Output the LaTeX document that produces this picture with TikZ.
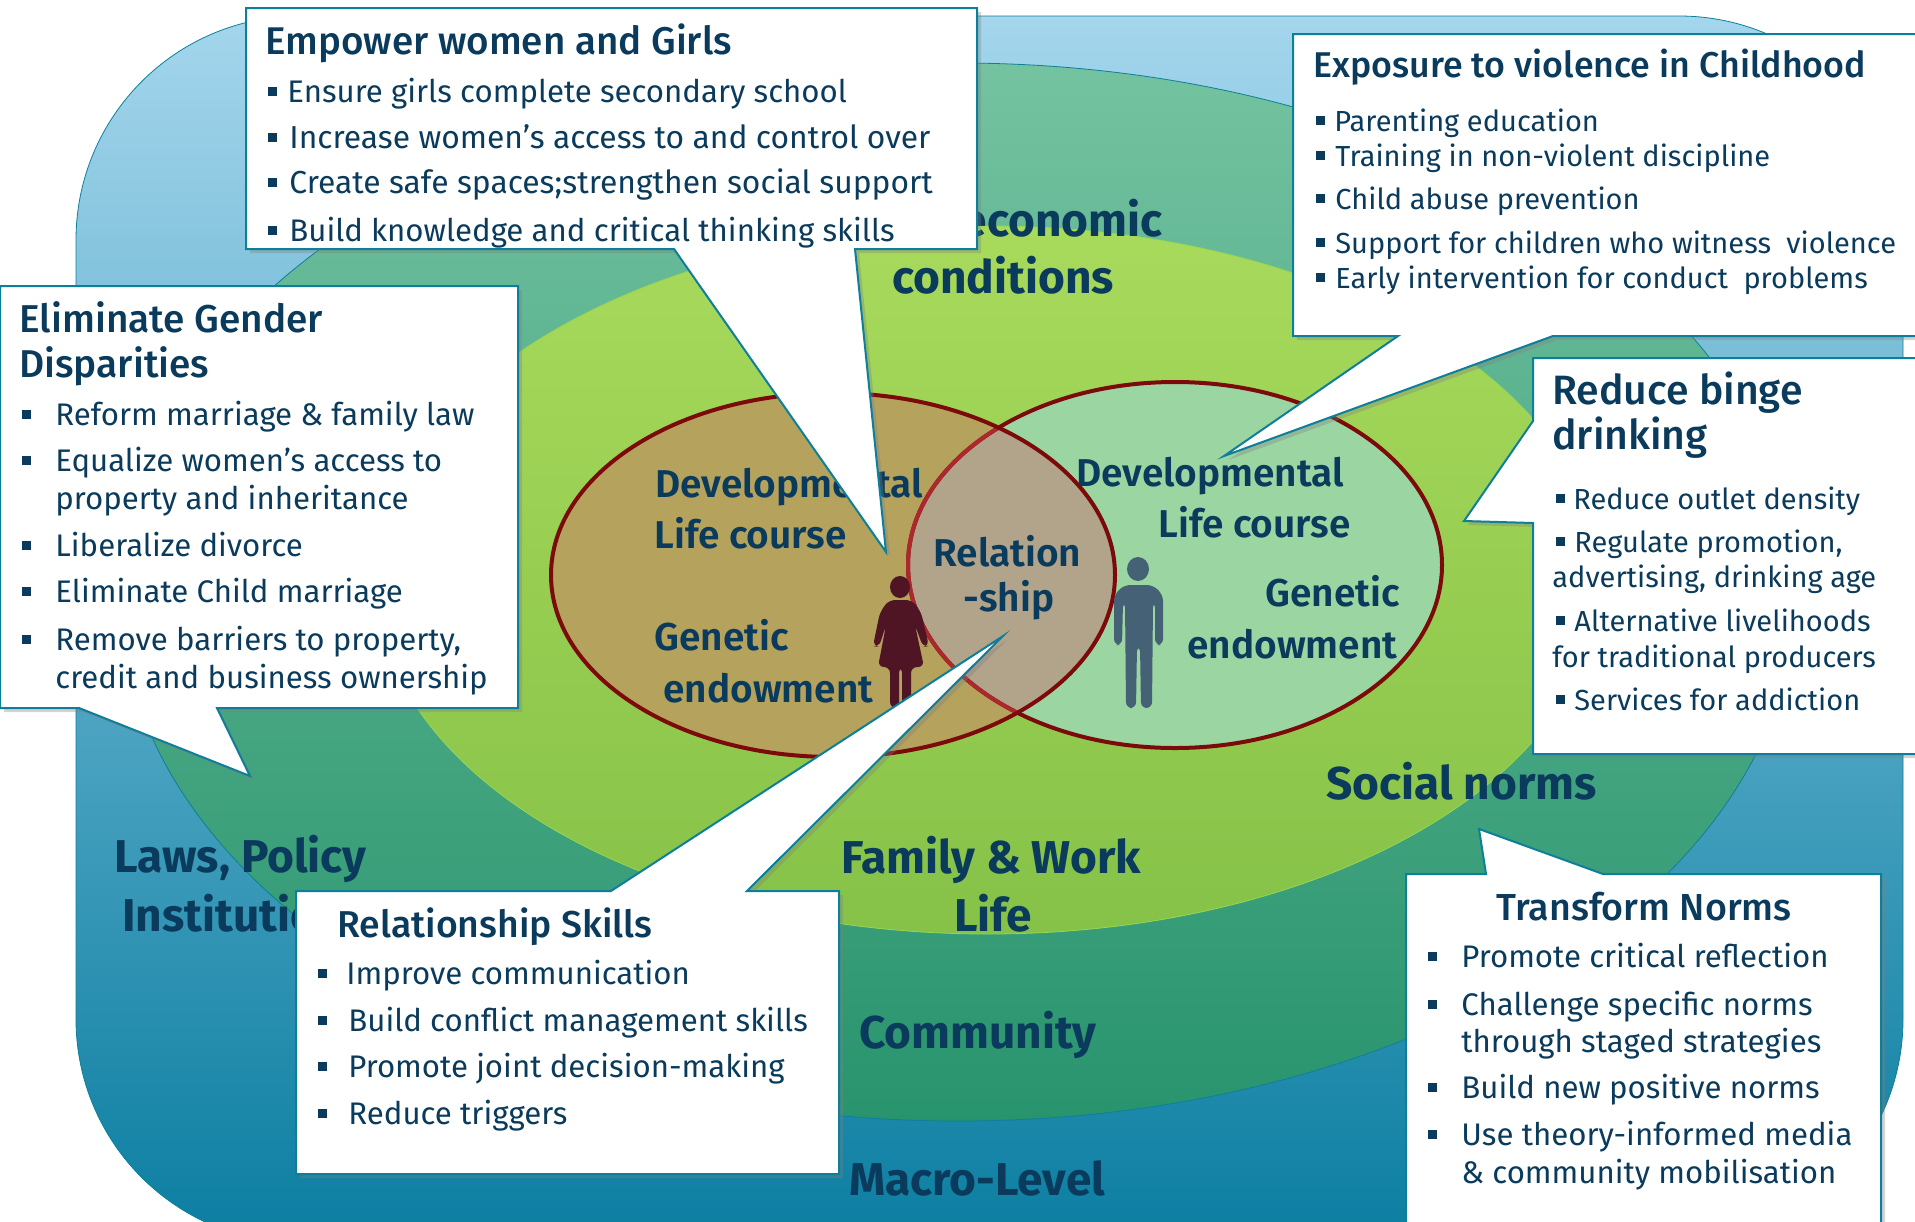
\documentclass[tikz,border=0pt]{standalone}
\usepackage{fontspec}
\setmainfont{Fira Sans}
\newfontfamily\mediumfont{Fira Sans Medium}
\newfontfamily\semifont{Fira Sans SemiBold}
\usetikzlibrary{shadows}

\definecolor{inktext}{HTML}{0A3B5C}
\definecolor{tealline}{HTML}{0E7F9A}
\definecolor{darkred}{HTML}{7C0A0A}

\tikzset{
	body/.style={anchor=base west,inner sep=0pt,text=inktext,font=\fontsize{15.6}{18}\selectfont},
	smallbody/.style={body,font=\fontsize{14.5}{18}\selectfont},
	widebody/.style={body,font=\fontsize{15.9}{18}\selectfont},
	boxtitle/.style={anchor=base west,inner sep=0pt,text=inktext,font=\fontsize{#1}{22}\mediumfont},
	biglabel/.style={anchor=base west,inner sep=0pt,text=inktext,font=\fontsize{23}{26}\selectfont\bfseries},
	venntext/.style={anchor=base west,inner sep=0pt,text=inktext,font=\fontsize{19.4}{22}\semifont},
	itemmark/.style={rectangle,fill=inktext,inner sep=0pt,minimum size=4.5pt},
	callout/.style={fill=white,draw=tealline,line width=1pt,line join=miter,
		drop shadow={shadow xshift=2pt,shadow yshift=-2pt,opacity=.35}},
}

\def\womancircle{(833,575) ellipse [x radius=282,y radius=182]}
\def\mancircle{(1175,565) ellipse [x radius=267,y radius=183]}

\begin{document}
\begin{tikzpicture}[x=0.5pt,y=-0.5pt]
	\useasboundingbox (0,0) rectangle (1915,1221);
	% nested levels
	\shade[top color={rgb,255:red,164;green,214;blue,237},bottom color={rgb,255:red,11;green,126;blue,161},draw=tealline,rounded corners=112pt] (76,16) rectangle (1903,1243);
	\shade[top color={rgb,255:red,116;green,194;blue,160},bottom color={rgb,255:red,40;green,148;blue,110},draw=tealline] (958,592) ellipse [x radius=838,y radius=529];
	\shade[top color={rgb,255:red,168;green,218;blue,92},bottom color={rgb,255:red,134;green,194;blue,72},draw={rgb,255:red,150;green,214;blue,80}] (988,580) ellipse [x radius=612,y radius=354];
	% venn
	\fill[color={rgb,255:red,180;green,162;blue,93}] \womancircle;
	\fill[color={rgb,255:red,155;green,214;blue,162}] \mancircle;
	\begin{scope}
		\clip \womancircle;
		\fill[color={rgb,255:red,178;green,163;blue,139}] \mancircle;
	\end{scope}
	\draw[darkred,line width=2pt] \mancircle;
	\begin{scope}
		\clip \womancircle;
		\draw[color={rgb,255:red,172;green,40;blue,44},line width=2pt] \mancircle;
	\end{scope}
	\draw[darkred,line width=2pt] \womancircle;
	% level labels
	\node[biglabel,anchor=base east] (economic) at (1163,236) {economic};
	\node[biglabel] (conditions) at (892,293) {conditions};
	\node[biglabel] (norms) at (1326,799) {Social norms};
	\node[biglabel] (family) at (841,873) {Family \& Work};
	\node[biglabel,anchor=base] (life) at (993,931) {Life};
	\node[biglabel] (community) at (859,1048) {Community};
	\node[biglabel] (macro) at (849,1195) {Macro-Level};
	\node[biglabel] (laws) at (114,872) {Laws, Policy};
	\node[biglabel] (institutions) at (122,931) {Institutions};
	% venn labels
	\node[venntext] (devleft) at (655,497) {Developmental};
	\node[venntext] (lifeleft) at (654,548) {Life course};
	\node[venntext] (genleft) at (654,650) {Genetic};
	\node[venntext] (endleft) at (663,702) {endowment};
	\node[venntext] (devright) at (1076,486) {Developmental};
	\node[venntext] (liferight) at (1158,537) {Life course};
	\node[venntext] (genright) at (1265,606) {Genetic};
	\node[venntext] (endright) at (1187,658) {endowment};
	\node[venntext] (relation) at (933,566) {Relation};
	\node[venntext] (ship) at (963,611) {-ship};
	% woman
	\fill[color={rgb,255:red,79;green,21;blue,36}] (900,587) ellipse [x radius=10,y radius=11];
	\fill[color={rgb,255:red,79;green,21;blue,36},rounded corners=3pt] (889,600) -- (912,600) -- (921,612) -- (929,646) -- (923,647) -- (915,625) -- (924,667) -- (911,667) -- (911,708) -- (902,708) -- (902,667) -- (899,667) -- (899,708) -- (890,708) -- (890,667) -- (878,667) -- (886,625) -- (879,647) -- (873,646) -- (880,612) -- cycle;
	% man
	\fill[color={rgb,255:red,69;green,97;blue,118}] (1138,569) ellipse [x radius=11,y radius=12];
	\fill[color={rgb,255:red,69;green,97;blue,118},rounded corners=3pt] (1124,585) -- (1153,585) -- (1163,595) -- (1163,645) -- (1155,645) -- (1155,602) -- (1153,602) -- (1152,708) -- (1141,708) -- (1140,646) -- (1137,646) -- (1136,708) -- (1126,708) -- (1125,602) -- (1123,602) -- (1122,645) -- (1114,645) -- (1114,595) -- cycle;
	% callouts
	\filldraw[callout] (246,8) -- (977,8) -- (977,249) -- (855,249) -- (886,552) -- (674,249) -- (246,249) -- cycle;
	\filldraw[callout] (0,286) -- (518,286) -- (518,708) -- (217,708) -- (250,776) -- (79,708) -- (0,708) -- cycle;
	\filldraw[callout] (296,891) -- (611,891) -- (1003,636) -- (747,891) -- (839,891) -- (839,1174) -- (296,1174) -- cycle;
	\filldraw[callout] (1293,34) -- (1930,34) -- (1930,336) -- (1553,336) -- (1224,456) -- (1398,336) -- (1293,336) -- cycle;
	\filldraw[callout] (1533,358) -- (1930,358) -- (1930,754) -- (1533,754) -- (1533,523) -- (1464,521) -- (1533,421) -- cycle;
	\filldraw[callout] (1406,874) -- (1486,874) -- (1479,829) -- (1603,874) -- (1881,874) -- (1881,1240) -- (1406,1240) -- cycle;
	% empower
	\node[boxtitle=19.3] (empower) at (265,54) {Empower women and Girls};
	\node[body] (emp1) at (287,102) {Ensure girls complete secondary school};
	\node[widebody] (emp2) at (289,148) {Increase women’s access to and control over};
	\node[widebody] (emp3) at (289,193) {Create safe spaces;strengthen social support};
	\node[body] (emp4) at (289,241) {Build knowledge and critical thinking skills};
	\foreach \y in {91,137,182,230}
		\node[itemmark] (empm\y) at (272,\y) {};
	% eliminate
	\node[boxtitle=19.4] (gender) at (19,332) {Eliminate Gender};
	\node[boxtitle=19.4] (gender2) at (19,377) {Disparities};
	\node[body] (gen1) at (55,425) {Reform marriage \& family law};
	\node[body] (gen2) at (55,471) {Equalize women’s access to};
	\node[body] (gen3) at (55,509) {property and inheritance};
	\node[body] (gen4) at (55,556) {Liberalize divorce};
	\node[body] (gen5) at (55,602) {Eliminate Child marriage};
	\node[body] (gen6) at (55,650) {Remove barriers to property,};
	\node[body] (gen7) at (55,688) {credit and business ownership};
	\foreach \y in {414,460,545,591,639}
		\node[itemmark] (genm\y) at (26,\y) {};
	% relationship
	\node[boxtitle=18.7] (skills) at (337,937) {Relationship Skills};
	\node[body] (rel1) at (346,984) {Improve communication};
	\node[body] (rel2) at (348,1031) {Build conflict management skills};
	\node[body] (rel3) at (348,1077) {Promote joint decision-making};
	\node[body] (rel4) at (348,1124) {Reduce triggers};
	\foreach \y in {973,1020,1066,1113}
		\node[itemmark] (relm\y) at (322,\y) {};
	% exposure
	\node[boxtitle=17.9] (exposure) at (1313,77) {Exposure to violence in Childhood};
	\node[smallbody] (exp1) at (1334,131) {Parenting education};
	\node[smallbody] (exp2) at (1335,166) {Training in non-violent discipline};
	\node[smallbody] (exp3) at (1335,209) {Child abuse prevention};
	\node[smallbody] (exp4) at (1335,253) {Support for children who witness\ \ violence};
	\node[smallbody] (exp5) at (1335,288) {Early intervention for conduct\ \ problems};
	\foreach \y in {120,155,198,242,277}
		\node[itemmark] (expm\y) at (1320,\y) {};
	% binge
	\node[boxtitle=20.5] (binge) at (1552,404) {Reduce binge};
	\node[boxtitle=20.5] (binge2) at (1552,449) {drinking};
	\node[smallbody] (bin1) at (1573,509) {Reduce outlet density};
	\node[smallbody] (bin2) at (1574,552) {Regulate promotion,};
	\node[smallbody] (bin3) at (1552,587) {advertising, drinking age};
	\node[smallbody] (bin4) at (1574,631) {Alternative livelihoods};
	\node[smallbody] (bin5) at (1552,667) {for traditional producers};
	\node[smallbody] (bin6) at (1574,710) {Services for addiction};
	\foreach \y in {498,541,620,699}
		\node[itemmark] (binm\y) at (1560,\y) {};
	% norms
	\node[boxtitle=18.8] (transform) at (1496,920) {Transform Norms};
	\node[body] (nor1) at (1461,967) {Promote critical reflection};
	\node[body] (nor2) at (1461,1015) {Challenge specific norms};
	\node[body] (nor3) at (1461,1052) {through staged strategies};
	\node[body] (nor4) at (1461,1098) {Build new positive norms};
	\node[body] (nor5) at (1461,1145) {Use theory-informed media};
	\node[body] (nor6) at (1461,1183) {\& community mobilisation};
	\foreach \y in {956,1004,1087,1134}
		\node[itemmark] (norm\y) at (1432,\y) {};
\end{tikzpicture}
\end{document}
